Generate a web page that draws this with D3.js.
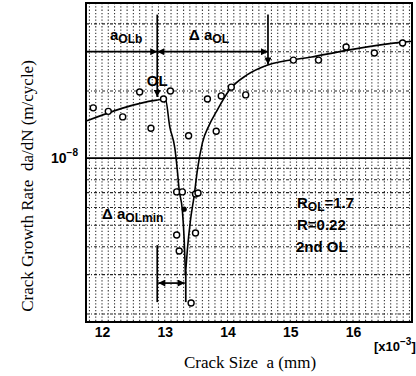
<!DOCTYPE html>
<html>
<head>
<meta charset="utf-8">
<script src="https://cdn.jsdelivr.net/npm/d3@7"></script>
<style>
  body { margin: 0; background: #fff; }
  svg { display: block; }
  text { white-space: pre; }
</style>
</head>
<body>
<svg id="chart" width="416" height="376"></svg>
<script>
// Measured crack growth rates after the second overload (a in units of 1e-3 mm)
const crackSize  = [11.86, 12.10, 12.33, 12.60, 12.78, 12.98, 13.09, 13.19, 13.28, 13.19, 13.23, 13.42,
                    13.49, 13.53, 13.49, 13.38, 13.68, 13.82, 13.90, 14.06, 14.29, 15.05, 15.45, 15.89, 16.34, 16.79];
const growthRate = [1.68e-8, 1.62e-8, 1.53e-8, 1.98e-8, 1.36e-8, 1.84e-8, 2.0e-8, 7.05e-9, 7.05e-9, 4.52e-9, 3.83e-9, 2.24e-9,
                    6.9e-9, 6.97e-9, 4.61e-9, 1.26e-8, 1.84e-8, 1.32e-8, 1.90e-8, 2.08e-8, 1.92e-8, 2.75e-8, 2.75e-8, 3.15e-8, 2.96e-8, 3.28e-8];

// Single filled point on the retardation branch
const filledSize = [13.31];
const filledRate = [5.9e-9];

// Fitted curve: before the overload and down to the minimum rate
const fitLeftSize = [11.76, 12.87, 13.01, 13.08, 13.16, 13.20, 13.23, 13.28, 13.31, 13.33];
const fitLeftRate = [1.47e-8, 1.82e-8, 1.84e-8, 1.38e-8, 1.11e-8, 8.84e-9, 7.19e-9, 5.85e-9, 4.29e-9, 3.0e-9];
// Fitted curve: recovery after the minimum rate
const fitRightSize = [13.33, 13.36, 13.41, 13.47, 13.52, 13.60, 13.71, 13.82, 14.03, 14.31, 14.63, 15.34, 15.92, 16.79, 16.94];
const fitRightRate = [3.0e-9, 3.87e-9, 5.27e-9, 6.82e-9, 8.84e-9, 1.17e-8, 1.41e-8, 1.61e-8, 2.02e-8, 2.36e-8, 2.61e-8, 2.84e-8, 3.05e-8, 3.31e-8, 3.34e-8];

// Axis ticks and grid levels
const xTickValues = [12, 13, 14, 15, 16];
const yGridRates = [2e-9, 3e-9, 4e-9, 5e-9, 6e-9, 7e-9, 8e-9, 9e-9, 2e-8, 3e-8, 4e-8];
const yMajorRate = 1e-8;

// Annotation positions (crack size / rate)
const overloadSize = 12.88;      // OL applied
const delayEndSize = 14.645;     // end of affected zone
const minRateSize = 13.335;      // minimum rate position
const bracketRate = 3e-8;
const annotTopRate = 4.4e-8;

const svg = d3.select("#chart");
const plotL = 86, plotR = 412, plotT = 3, plotB = 322;

const x = d3.scaleLinear().domain([11.745, 16.94]).range([plotL, plotR]);
const y = d3.scaleLog().domain([1.84e-9, 4.96e-8]).range([plotB, plotT]);

// Arrowhead marker
const defs = svg.append("defs");
defs.append("marker")
  .attr("id", "arr").attr("viewBox", "0 0 10 10")
  .attr("refX", 10).attr("refY", 5)
  .attr("markerWidth", 10).attr("markerHeight", 7)
  .attr("markerUnits", "userSpaceOnUse")
  .attr("orient", "auto-start-reverse")
  .append("path").attr("d", "M0,0 L10,5 L0,10 Z").attr("fill", "#000");

// Vertical dotted grid, every 0.1
const grid = svg.append("g");
const xMinor = d3.range(118, 170).map(d => d / 10);
grid.selectAll("line.vx").data(xMinor).join("line")
  .attr("x1", d => x(d)).attr("x2", d => x(d))
  .attr("y1", plotT).attr("y2", plotB)
  .attr("stroke", "#111").attr("stroke-width", 1.1)
  .attr("stroke-dasharray", "1.3,2").attr("opacity", 0.85);

// Horizontal dashed grid
grid.selectAll("line.hy").data(yGridRates).join("line")
  .attr("x1", plotL).attr("x2", plotR)
  .attr("y1", d => y(d)).attr("y2", d => y(d))
  .attr("stroke", "#111").attr("stroke-width", 1.1)
  .attr("stroke-dasharray", "3,2,1,2").attr("opacity", 0.9);

grid.append("line")
  .attr("x1", plotL).attr("x2", plotR)
  .attr("y1", y(yMajorRate)).attr("y2", y(yMajorRate))
  .attr("stroke", "#000").attr("stroke-width", 1.7);

// Frame
svg.append("rect")
  .attr("x", plotL).attr("y", plotT).attr("width", plotR - plotL).attr("height", plotB - plotT)
  .attr("fill", "none").attr("stroke", "#000").attr("stroke-width", 2);

// Fitted curves
const line = d3.line().x(d => x(d[0])).y(d => y(d[1])).curve(d3.curveMonotoneX);
svg.append("path").datum(d3.zip(fitLeftSize, fitLeftRate))
  .attr("d", line).attr("fill", "none").attr("stroke", "#000").attr("stroke-width", 1.6);
svg.append("path").datum(d3.zip(fitRightSize, fitRightRate))
  .attr("d", line).attr("fill", "none").attr("stroke", "#000").attr("stroke-width", 1.6);

// Data points
svg.selectAll("circle.pt").data(d3.zip(crackSize, growthRate)).join("circle")
  .attr("cx", d => x(d[0])).attr("cy", d => y(d[1])).attr("r", 3)
  .attr("fill", "#fff").attr("stroke", "#000").attr("stroke-width", 1.4);
svg.selectAll("circle.fp").data(d3.zip(filledSize, filledRate)).join("circle")
  .attr("cx", d => x(d[0])).attr("cy", d => y(d[1])).attr("r", 2.6)
  .attr("fill", "#000");

// Overload annotations
const ann = svg.append("g").attr("stroke", "#000").attr("stroke-width", 1.7);
ann.append("line")
  .attr("x1", x(overloadSize)).attr("x2", x(overloadSize))
  .attr("y1", y(annotTopRate)).attr("y2", y(1.84e-8) - 2)
  .attr("marker-end", "url(#arr)");
ann.append("line")
  .attr("x1", x(delayEndSize)).attr("x2", x(delayEndSize))
  .attr("y1", y(annotTopRate)).attr("y2", y(2.6e-8) - 1)
  .attr("marker-end", "url(#arr)");
ann.append("line")
  .attr("x1", plotL).attr("x2", x(overloadSize))
  .attr("y1", y(bracketRate)).attr("y2", y(bracketRate))
  .attr("marker-end", "url(#arr)");
ann.append("line")
  .attr("x1", x(overloadSize)).attr("x2", x(delayEndSize))
  .attr("y1", y(bracketRate)).attr("y2", y(bracketRate))
  .attr("marker-start", "url(#arr)").attr("marker-end", "url(#arr)");

// Minimum-rate bracket
ann.append("line")
  .attr("x1", x(overloadSize)).attr("x2", x(overloadSize))
  .attr("y1", y(4.07e-9)).attr("y2", y(2.26e-9));
ann.append("line")
  .attr("x1", x(minRateSize)).attr("x2", x(minRateSize))
  .attr("y1", y(3.1e-9)).attr("y2", y(2.26e-9));
ann.append("line")
  .attr("x1", x(overloadSize) + 1).attr("x2", x(minRateSize) - 1)
  .attr("y1", y(2.75e-9)).attr("y2", y(2.75e-9))
  .attr("marker-start", "url(#arr)").attr("marker-end", "url(#arr)");

// Labels inside the plot
const sans = "'Liberation Sans', Arial, sans-serif";
function subLabel(px, py, pre, main, sub, post, size) {
  const t = svg.append("text").attr("x", px).attr("y", py)
    .attr("font-family", sans).attr("font-size", size).attr("font-weight", "bold");
  if (pre) t.append("tspan").text(pre);
  t.append("tspan").text(main);
  t.append("tspan").attr("font-size", size * 0.8).attr("dy", 3).text(sub);
  if (post) t.append("tspan").attr("dy", -3).text(post);
  return t;
}
subLabel(110, 40, null, "a", "OLb", null, 15);
subLabel(189, 40, "\u0394 ", "a", "OL", null, 15);
subLabel(102, 219, "\u0394 ", "a", "OLmin", null, 15);
subLabel(297, 208, null, "R", "OL", "=1.7", 15);

svg.append("text").attr("x", 297).attr("y", 230)
  .attr("font-family", sans).attr("font-size", 15).attr("font-weight", "bold").text("R=0.22");
svg.append("text").attr("x", 296).attr("y", 252)
  .attr("font-family", sans).attr("font-size", 15).attr("font-weight", "bold").text("2nd OL");
svg.append("text").attr("x", x(overloadSize)).attr("y", 86).attr("text-anchor", "middle")
  .attr("font-family", sans).attr("font-size", 15).attr("font-weight", "bold").text("OL");

// X axis tick labels
const xAxis = d3.axisBottom(x).tickValues(xTickValues).tickSize(0).tickPadding(5).tickFormat(d3.format("d"));
const gx = svg.append("g").attr("transform", `translate(0,${plotB})`).call(xAxis);
gx.select(".domain").remove();
gx.selectAll("text").attr("font-family", sans).attr("font-size", 14).attr("font-weight", "bold").attr("fill", "#000");

const ex = svg.append("text").attr("x", 374).attr("y", 351)
  .attr("font-family", sans).attr("font-size", 13).attr("font-weight", "bold");
ex.append("tspan").text("[x10");
ex.append("tspan").attr("font-size", 10).attr("dy", -6).text("\u22123");
ex.append("tspan").attr("dy", 6).text("]");

// Y axis: the 1e-8 label
const ly = svg.append("text").attr("x", 78).attr("y", y(yMajorRate) + 5).attr("text-anchor", "end")
  .attr("font-family", sans).attr("font-size", 14).attr("font-weight", "bold");
ly.append("tspan").text("10");
ly.append("tspan").attr("font-size", 10).attr("dy", -7).text("\u22128");

// Axis titles
const serif = "'Liberation Serif', 'Times New Roman', serif";
svg.append("text").attr("x", 250).attr("y", 368).attr("text-anchor", "middle")
  .attr("font-family", serif).attr("font-size", 17).text("Crack Size  a (mm)");
svg.append("text").attr("transform", "translate(33,186) rotate(-90)").attr("text-anchor", "middle")
  .attr("font-family", serif).attr("font-size", 17).text("Crack Growth Rate  da/dN (m/cycle)");
</script>
</body>
</html>
